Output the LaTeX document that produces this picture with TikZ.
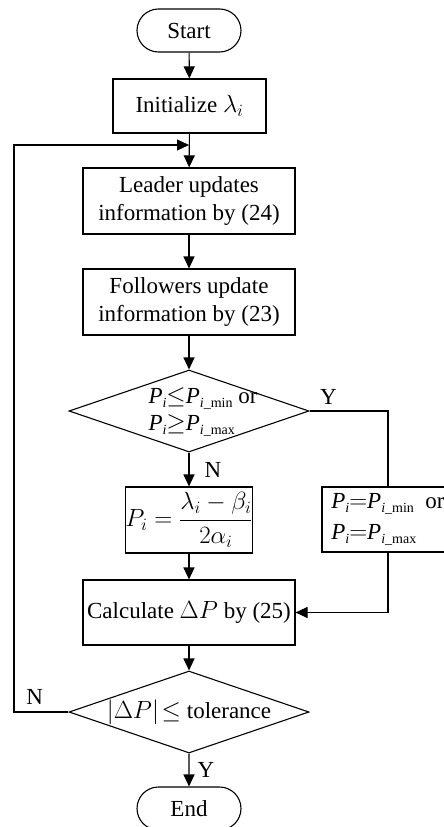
\documentclass[tikz,border=0pt]{standalone}
\usepackage{amsmath,amssymb}
\usepackage{fontspec}
\setmainfont{Liberation Serif}
\usetikzlibrary{shapes.geometric,shapes.misc,arrows.meta}

\newcommand{\pvar}{\textit{P}}
\newcommand{\lowsub}[1]{\raisebox{-0.15em}{\fontsize{14}{14}\selectfont#1}}

\begin{document}
\begin{tikzpicture}[
        x=1pt, y=-1pt,
        font=\fontsize{23}{28}\selectfont,
        line width=1.1pt,
        >={Triangle[length=12pt,width=11pt]},
        term/.style={
            rounded rectangle,
            draw,
            minimum width=104pt,
            minimum height=43pt,
            inner sep=0pt
        },
        box/.style={
            rectangle,
            draw,
            align=center,
            minimum width=212pt,
            minimum height=66pt,
            inner sep=0pt
        },
        cond/.style={
            diamond,
            draw,
            aspect=2.93,
            minimum width=240pt,
            minimum height=82pt,
            inner sep=0pt
        },
        lbl/.style={inner sep=0pt}
    ]

    \useasboundingbox (0,0) rectangle (444,827);
    \clip (0,0) rectangle (444,827);

    % ---------- Main column ----------
    \node[term] (start) at (189,30.5) {Start};
    \node[box, minimum width=153pt, minimum height=54pt] (init) at (189.5,106) {Initialize $\lambda_i$};
    \coordinate (join) at (189,145);
    \node[box] (leader) at (189,201) {Leader updates\\information by (24)};
    \node[box] (follow) at (189,302) {Followers update\\information by (23)};
    \node[cond] (check) at (189,411) {};
    \node[lbl, align=left, anchor=west] (checktxt) at (148,412)
        {\pvar\lowsub{\textit{i}}$\le$\pvar\lowsub{\textit{i}\_min} or\\[-1pt]
         \pvar\lowsub{\textit{i}}$\ge$\pvar\lowsub{\textit{i}\_max}};
    \node[box, minimum width=119pt] (solve) at (189,520) {$P_i=\dfrac{\lambda_i-\beta_i}{2\alpha_i}$};
    \node[box, minimum height=65pt] (calc) at (189,612.5) {Calculate $\Delta P$ by (25)};
    \node[cond] (conv) at (189,712) {$\left|\Delta P\right|\!\le$ tolerance};
    \node[term] (stop) at (189,808.5) {End};

    % ---------- Right branch ----------
    \node[box, minimum width=132pt, minimum height=65pt, align=left] (clamp) at (388,519.5)
        {\pvar\lowsub{\textit{i}}$=$\pvar\lowsub{\textit{i}\_min}\ \ or\\[3pt]
         \pvar\lowsub{\textit{i}}$=$\pvar\lowsub{\textit{i}\_max}};
    \coordinate (back) at (14,712);

    % ---------- Connectors ----------
    \draw[->] (start) -- (init);
    \draw[->] (init) -- (leader);
    \draw[->] (leader) -- (follow);
    \draw[->] (follow) -- (check);
    \draw[->] (check) -- node[lbl, right=15pt] {N} (solve);
    \draw[->] (solve) -- (calc);
    \draw (check.east) -- node[lbl, pos=0.24, above=6pt] {Y} (check.east -| clamp) -- (clamp);
    \draw[->] (clamp) |- (calc);
    \draw[->] (calc) -- (conv);
    \draw[->] (conv) -- node[lbl, right=8pt] {Y} (stop);
    \draw[->] (conv.west) -- node[lbl, pos=0.62, above=7pt] {N} (back) |- (join);

    \end{tikzpicture}
\end{document}
